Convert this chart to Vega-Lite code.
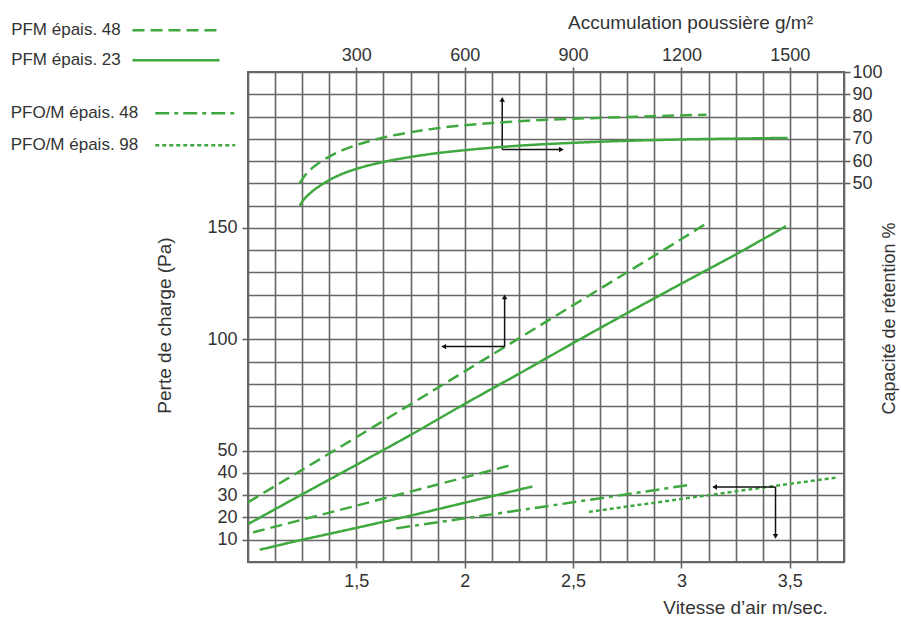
{
  "$schema": "https://vega.github.io/schema/vega-lite/v6.json",
  "width": 596,
  "height": 490,
  "autosize": {"type": "none"},
  "padding": {"left": 248, "top": 72, "right": 57, "bottom": 59},
  "background": "white",
  "datasets": {
    "pfm": [
      {"serie": "PFM épais. 48", "courbe": "haut", "v": 1.0, "pa": 26.8},
      {"serie": "PFM épais. 48", "courbe": "haut", "v": 1.25, "pa": 41.4},
      {"serie": "PFM épais. 48", "courbe": "haut", "v": 1.5, "pa": 56},
      {"serie": "PFM épais. 48", "courbe": "haut", "v": 1.75, "pa": 70.8},
      {"serie": "PFM épais. 48", "courbe": "haut", "v": 2.0, "pa": 85.6},
      {"serie": "PFM épais. 48", "courbe": "haut", "v": 2.25, "pa": 100.4},
      {"serie": "PFM épais. 48", "courbe": "haut", "v": 2.5, "pa": 115.3},
      {"serie": "PFM épais. 48", "courbe": "haut", "v": 2.75, "pa": 130.1},
      {"serie": "PFM épais. 48", "courbe": "haut", "v": 3.0, "pa": 145},
      {"serie": "PFM épais. 48", "courbe": "haut", "v": 3.115, "pa": 152},
      {"serie": "PFM épais. 23", "courbe": "haut", "v": 1.0, "pa": 17},
      {"serie": "PFM épais. 23", "courbe": "haut", "v": 1.25, "pa": 30.4},
      {"serie": "PFM épais. 23", "courbe": "haut", "v": 1.5, "pa": 43.6},
      {"serie": "PFM épais. 23", "courbe": "haut", "v": 1.75, "pa": 57},
      {"serie": "PFM épais. 23", "courbe": "haut", "v": 2.0, "pa": 71},
      {"serie": "PFM épais. 23", "courbe": "haut", "v": 2.25, "pa": 84.5},
      {"serie": "PFM épais. 23", "courbe": "haut", "v": 2.5, "pa": 98.3},
      {"serie": "PFM épais. 23", "courbe": "haut", "v": 2.75, "pa": 111.8},
      {"serie": "PFM épais. 23", "courbe": "haut", "v": 3.0, "pa": 125},
      {"serie": "PFM épais. 23", "courbe": "haut", "v": 3.25, "pa": 138},
      {"serie": "PFM épais. 23", "courbe": "haut", "v": 3.483, "pa": 150.8},
      {"serie": "PFM épais. 48", "courbe": "bas", "v": 1.023, "pa": 13.3},
      {"serie": "PFM épais. 48", "courbe": "bas", "v": 1.25, "pa": 19},
      {"serie": "PFM épais. 48", "courbe": "bas", "v": 1.5, "pa": 25.3},
      {"serie": "PFM épais. 48", "courbe": "bas", "v": 1.75, "pa": 31.6},
      {"serie": "PFM épais. 48", "courbe": "bas", "v": 2.0, "pa": 38},
      {"serie": "PFM épais. 48", "courbe": "bas", "v": 2.222, "pa": 43.7},
      {"serie": "PFM épais. 23", "courbe": "bas", "v": 1.054, "pa": 5.5},
      {"serie": "PFM épais. 23", "courbe": "bas", "v": 1.25, "pa": 10},
      {"serie": "PFM épais. 23", "courbe": "bas", "v": 1.5, "pa": 15.3},
      {"serie": "PFM épais. 23", "courbe": "bas", "v": 1.75, "pa": 20.8},
      {"serie": "PFM épais. 23", "courbe": "bas", "v": 2.0, "pa": 26.6},
      {"serie": "PFM épais. 23", "courbe": "bas", "v": 2.312, "pa": 33.9}
    ],
    "pfom": [
      {"serie": "PFO/M épais. 48", "v": 1.684, "pa": 15.1},
      {"serie": "PFO/M épais. 48", "v": 2.0, "pa": 19.6},
      {"serie": "PFO/M épais. 48", "v": 2.5, "pa": 26.8},
      {"serie": "PFO/M épais. 48", "v": 3.03, "pa": 34.5},
      {"serie": "PFO/M épais. 98", "v": 2.573, "pa": 22.5},
      {"serie": "PFO/M épais. 98", "v": 3.0, "pa": 28.3},
      {"serie": "PFO/M épais. 98", "v": 3.5, "pa": 35.1},
      {"serie": "PFO/M épais. 98", "v": 3.714, "pa": 37.9}
    ],
    "retention": [
      {"serie": "PFM épais. 48", "acc": 143, "ret": 50},
      {"serie": "PFM épais. 48", "acc": 155, "ret": 53},
      {"serie": "PFM épais. 48", "acc": 175, "ret": 56.5},
      {"serie": "PFM épais. 48", "acc": 200, "ret": 59.6},
      {"serie": "PFM épais. 48", "acc": 230, "ret": 62.5},
      {"serie": "PFM épais. 48", "acc": 260, "ret": 64.8},
      {"serie": "PFM épais. 48", "acc": 300, "ret": 67.2},
      {"serie": "PFM épais. 48", "acc": 375, "ret": 70.6},
      {"serie": "PFM épais. 48", "acc": 452, "ret": 73},
      {"serie": "PFM épais. 48", "acc": 526, "ret": 74.8},
      {"serie": "PFM épais. 48", "acc": 600, "ret": 76.1},
      {"serie": "PFM épais. 48", "acc": 675, "ret": 77.1},
      {"serie": "PFM épais. 48", "acc": 750, "ret": 77.9},
      {"serie": "PFM épais. 48", "acc": 900, "ret": 79},
      {"serie": "PFM épais. 48", "acc": 1050, "ret": 79.8},
      {"serie": "PFM épais. 48", "acc": 1150, "ret": 80.3},
      {"serie": "PFM épais. 48", "acc": 1269, "ret": 80.8},
      {"serie": "PFM épais. 23", "acc": 143, "ret": 40},
      {"serie": "PFM épais. 23", "acc": 155, "ret": 42.8},
      {"serie": "PFM épais. 23", "acc": 175, "ret": 46},
      {"serie": "PFM épais. 23", "acc": 200, "ret": 49},
      {"serie": "PFM épais. 23", "acc": 230, "ret": 51.9},
      {"serie": "PFM épais. 23", "acc": 260, "ret": 54.2},
      {"serie": "PFM épais. 23", "acc": 300, "ret": 56.5},
      {"serie": "PFM épais. 23", "acc": 375, "ret": 59.6},
      {"serie": "PFM épais. 23", "acc": 452, "ret": 61.9},
      {"serie": "PFM épais. 23", "acc": 526, "ret": 63.6},
      {"serie": "PFM épais. 23", "acc": 600, "ret": 64.9},
      {"serie": "PFM épais. 23", "acc": 675, "ret": 66},
      {"serie": "PFM épais. 23", "acc": 750, "ret": 66.9},
      {"serie": "PFM épais. 23", "acc": 900, "ret": 68.2},
      {"serie": "PFM épais. 23", "acc": 1050, "ret": 69.1},
      {"serie": "PFM épais. 23", "acc": 1200, "ret": 69.7},
      {"serie": "PFM épais. 23", "acc": 1350, "ret": 70.1},
      {"serie": "PFM épais. 23", "acc": 1494, "ret": 70.4}
    ],
    "fleches": [
      {"v": 2.173, "pa": 185.2, "v2": 2.173, "pa2": 207.7},
      {"v": 2.173, "pa": 185.2, "v2": 2.446, "pa2": 185.2},
      {"v": 2.184, "pa": 96.7, "v2": 2.184, "pa2": 119},
      {"v": 2.184, "pa": 96.7, "v2": 1.903, "pa2": 96.7},
      {"v": 3.434, "pa": 33.7, "v2": 3.153, "pa2": 33.7},
      {"v": 3.434, "pa": 33.7, "v2": 3.434, "pa2": 11.5}
    ],
    "pointes": [
      {"v": 2.173, "pa": 207.7, "forme": "triangle-up"},
      {"v": 2.446, "pa": 185.2, "forme": "triangle-right"},
      {"v": 2.184, "pa": 119, "forme": "triangle-up"},
      {"v": 1.903, "pa": 96.7, "forme": "triangle-left"},
      {"v": 3.153, "pa": 33.7, "forme": "triangle-left"},
      {"v": 3.434, "pa": 11.5, "forme": "triangle-down"}
    ]
  },
  "layer": [
    {
      "encoding": {
        "x": {
          "field": "v", "type": "quantitative",
          "scale": {"domain": [1, 3.75], "nice": false, "zero": false},
          "axis": {
            "orient": "bottom",
            "values": [1, 1.125, 1.25, 1.375, 1.5, 1.625, 1.75, 1.875, 2, 2.125, 2.25, 2.375, 2.5, 2.625, 2.75, 2.875, 3, 3.125, 3.25, 3.375, 3.5, 3.625, 3.75],
            "grid": true, "gridColor": "#666", "gridWidth": 1.6,
            "domain": false,
            "tickSize": 6, "tickColor": "#666", "tickWidth": 1.6,
            "tickOpacity": {"condition": {"test": "indexof([1.5, 2, 2.5, 3, 3.5], datum.value) >= 0", "value": 1}, "value": 0},
            "labelExpr": "indexof([1.5, 2, 2.5, 3, 3.5], datum.value) >= 0 ? replace(toString(datum.value), '.', ',') : ''",
            "labelOverlap": false, "labelPadding": 4, "labelFontSize": 18,
            "title": "Vitesse d’air m/sec.",
            "titleX": 497, "titleY": 45, "titleAlign": "center", "titleBaseline": "middle"
          }
        },
        "y": {
          "field": "pa", "type": "quantitative",
          "scale": {"domain": [0, 220], "nice": false, "zero": false},
          "axis": {
            "orient": "left",
            "values": [0, 10, 20, 30, 40, 50, 60, 70, 80, 90, 100, 110, 120, 130, 140, 150, 160, 170, 180, 190, 200, 210, 220],
            "grid": true, "gridColor": "#666", "gridWidth": 1.6,
            "domain": false,
            "tickSize": 6, "tickColor": "#666", "tickWidth": 1.6,
            "tickOpacity": {"condition": {"test": "indexof([10, 20, 30, 40, 50, 100, 150], datum.value) >= 0", "value": 1}, "value": 0},
            "labelExpr": "indexof([10, 20, 30, 40, 50, 100, 150], datum.value) >= 0 ? datum.label : ''",
            "labelOverlap": false, "labelPadding": 5, "labelFontSize": 18,
            "title": "Perte de charge (Pa)",
            "titleAngle": 270, "titleX": -84, "titleY": 253, "titleAlign": "center", "titleBaseline": "middle"
          }
        }
      },
      "layer": [
        {
          "data": {"name": "pfm"},
          "mark": {"type": "line", "color": "#3fa83f", "strokeWidth": 2.5},
          "encoding": {
            "detail": {"field": "courbe", "type": "nominal"},
            "strokeDash": {
              "field": "serie", "type": "nominal",
              "scale": {"domain": ["PFM épais. 48", "PFM épais. 23"], "range": [[12, 6], [1, 0]]},
              "legend": {
                "orient": "none", "legendX": -88, "legendY": -57.75, "title": null,
                "symbolType": "M-3,0H3", "symbolSize": 841, "symbolStrokeWidth": 2.5, "symbolStrokeColor": "#3fa83f", "symbolFillColor": "transparent",
                "labelAlign": "right", "labelOffset": -71.25, "labelFont": "Liberation Sans", "labelFontSize": 17, "labelColor": "#333",
                "labelLimit": 300, "rowPadding": 6, "padding": 0
              }
            }
          }
        },
        {
          "data": {"name": "pfom"},
          "mark": {"type": "line", "color": "#3fa83f", "strokeWidth": 2.5},
          "encoding": {
            "strokeDash": {
              "field": "serie", "type": "nominal",
              "scale": {"domain": ["PFO/M épais. 48", "PFO/M épais. 98"], "range": [[14, 5, 4, 5], [4, 3]]},
              "legend": {
                "orient": "none", "legendX": -67.75, "legendY": 26.25, "title": null,
                "symbolType": "M-3,0H3", "symbolSize": 711, "symbolStrokeWidth": 2.5, "symbolStrokeColor": "#3fa83f", "symbolFillColor": "transparent",
                "labelAlign": "right", "labelOffset": -72, "labelFont": "Liberation Sans", "labelFontSize": 17, "labelColor": "#333",
                "labelLimit": 300, "rowPadding": 9, "padding": 0
              }
            }
          }
        },
        {
          "data": {"name": "fleches"},
          "mark": {"type": "rule", "color": "#111", "strokeWidth": 1.5},
          "encoding": {
            "x2": {"field": "v2"},
            "y2": {"field": "pa2"}
          }
        },
        {
          "data": {"name": "pointes"},
          "mark": {"type": "point", "filled": true, "color": "#111", "size": 30, "opacity": 1},
          "encoding": {
            "shape": {"field": "forme", "type": "nominal", "scale": null}
          }
        }
      ],
      "resolve": {"scale": {"strokeDash": "independent"}}
    },
    {
      "data": {"name": "retention"},
      "mark": {"type": "line", "color": "#3fa83f", "strokeWidth": 2.5, "interpolate": "monotone"},
      "encoding": {
        "x": {
          "field": "acc", "type": "quantitative",
          "scale": {"domain": [0, 1650], "nice": false, "zero": false},
          "axis": {
            "orient": "top", "values": [300, 600, 900, 1200, 1500], "format": "d",
            "grid": false, "domain": false,
            "tickSize": 5, "tickColor": "#666", "tickWidth": 1.6,
            "labelPadding": 3, "labelFontSize": 18,
            "title": "Accumulation poussière g/m²",
            "titleX": 442, "titleY": -44, "titleAlign": "center", "titleBaseline": "alphabetic"
          }
        },
        "y": {
          "field": "ret", "type": "quantitative",
          "scale": {"domain": [-120, 100], "nice": false, "zero": false},
          "axis": {
            "orient": "right", "values": [50, 60, 70, 80, 90, 100],
            "grid": false, "domain": false,
            "tickSize": 6, "tickColor": "#666", "tickWidth": 1.6,
            "labelPadding": 2, "labelFontSize": 18,
            "title": "Capacité de rétention %",
            "titleAngle": 270, "titleX": 45, "titleY": 246, "titleAlign": "center", "titleBaseline": "middle", "titleFontSize": 18
          }
        },
        "strokeDash": {
          "field": "serie", "type": "nominal",
          "scale": {"domain": ["PFM épais. 48", "PFM épais. 23"], "range": [[12, 6], [1, 0]]},
          "legend": null
        }
      }
    }
  ],
  "resolve": {"scale": {"x": "independent", "y": "independent", "strokeDash": "independent"}},
  "config": {
    "view": {"stroke": "#666", "strokeWidth": 2},
    "axis": {
      "labelFont": "Liberation Sans", "titleFont": "Liberation Sans",
      "labelColor": "#333", "titleColor": "#333",
      "titleFontWeight": "normal", "titleFontSize": 19
    }
  }
}
